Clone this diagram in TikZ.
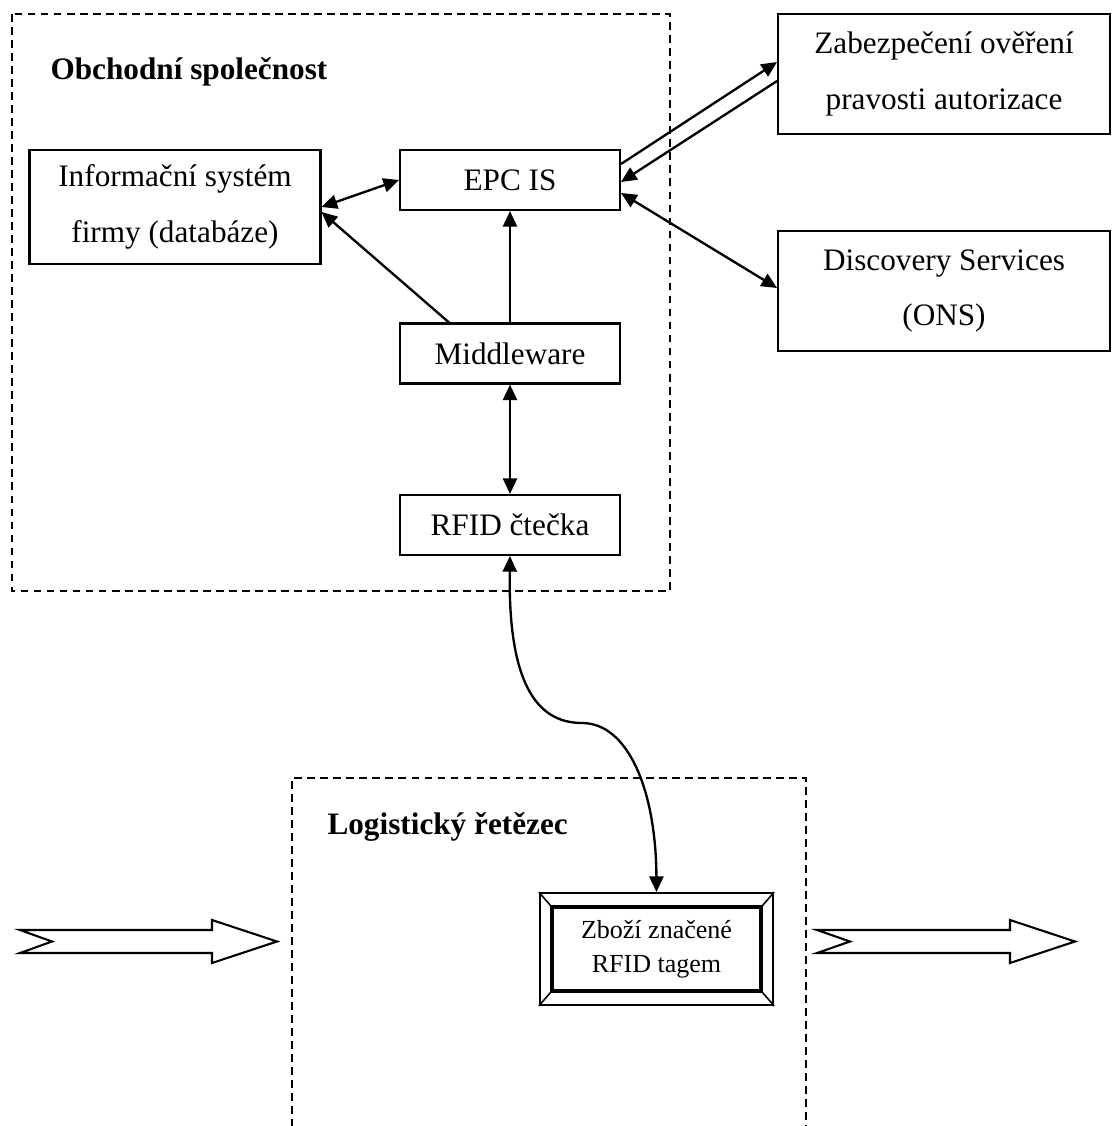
\documentclass[tikz,border=0pt]{standalone}
\usepackage{fontspec}
\setmainfont{Liberation Serif}
\usepackage{tikz}
\usetikzlibrary{arrows.meta, calc}

\tikzset{
    box/.style={draw, line width=0.8pt, inner sep=0pt, align=center,
        font=\fontsize{12}{21.5}\selectfont},
    frame/.style={line width=0.8pt, dash pattern=on 3pt off 2pt},
    link/.style={line width=0.9pt},
    title/.style={anchor=west, inner sep=0pt, font=\fontsize{12}{14}\selectfont\bfseries},
    bigarrow/.style={draw, line width=0.8pt, fill=white, line join=miter}
}

\begin{document}
\begin{tikzpicture}[x=0.0135cm, y=-0.0135cm, >={Triangle[length=6pt, width=5.4pt]}]
    \useasboundingbox (0,0) rectangle (1112,1126);

    % Company frame
    \draw[frame] (12,14) rectangle (670,591);
    \node[title] (company) at (50,72) {Obchodní společnost};

    % Boxes
    \node[box, minimum width=3.93cm, minimum height=1.55cm] (info) at (175,207) {Informační systém\\firmy (databáze)};
    \node[box, minimum width=2.97cm, minimum height=0.81cm] (epc) at (510,180) {EPC IS};
    \node[box, minimum width=2.97cm, minimum height=0.81cm] (mw) at (510,353.5) {Middleware};
    \node[box, minimum width=2.97cm, minimum height=0.81cm] (rfid) at (510,525) {RFID čtečka};
    \node[box, minimum width=4.48cm, minimum height=1.62cm] (auth) at (944,74) {Zabezpečení ověření\\pravosti autorizace};
    \node[box, minimum width=4.48cm, minimum height=1.62cm] (ons) at (944,291) {Discovery Services\\(ONS)};

    % Links inside the company
    \draw[link, <->] (info.east) -- (epc.west);
    \draw[link, ->] ($(mw.north west)+(50,0)$) -- ($(info.east)+(0,5)$);
    \draw[link, ->] (mw.north) -- (epc.south);
    \draw[link, <->] (mw.south) -- (rfid.north);

    % Links to outside services
    \draw[link, ->] ($(epc.east)+(0,-16)$) -- ($(auth.west)+(0,-12)$);
    \draw[link, ->] ($(auth.west)+(0,7)$) -- ($(epc.east)+(0,2)$);
    \draw[link, <->] ($(epc.east)+(0,13)$) -- ($(ons.west)+(0,-3)$);

    % Logistic chain frame (open at the bottom)
    \draw[frame] (292,1140) -- (292,778) -- (806,778) -- (806,1140);
    \node[title] (chain) at (327,827) {Logistický řetězec};

    % Tagged goods, bevelled box
    \node[draw, line width=0.8pt, minimum width=3.15cm, minimum height=1.51cm, inner sep=0pt] (goods) at (656.5,949) {};
    \coordinate (in1) at ($(goods.north west)+(13,15)$);
    \coordinate (in2) at ($(goods.south east)+(-13,-15)$);
    \draw[line width=1.3pt] (in1) rectangle (in2);
    \draw[line width=0.6pt] (goods.north west) -- (in1)
        (goods.south east) -- (in2)
        (goods.north east) -- (in1 -| in2)
        (goods.south west) -- (in1 |- in2);
    \node[align=center, font=\fontsize{10}{13}\selectfont] (goodstext) at (goods.center) {Zboží značené\\RFID tagem};

    % Radio link reader - tag
    \draw[link, <->] (rfid.south) .. controls (508,680) and (535,723) .. (582,723)
        .. controls (628,723) and (656,790) .. (goods.north);

    % Flow of goods
    \draw[bigarrow] (20,930) -- (212,930) -- (212,920) -- (277,941.5) -- (212,963) -- (212,953) -- (20,953) -- (52,941.5) -- cycle;
    \draw[bigarrow] (817,930) -- (1010,930) -- (1010,920) -- (1075,941.5) -- (1010,963) -- (1010,953) -- (817,953) -- (850,941.5) -- cycle;
\end{tikzpicture}
\end{document}
